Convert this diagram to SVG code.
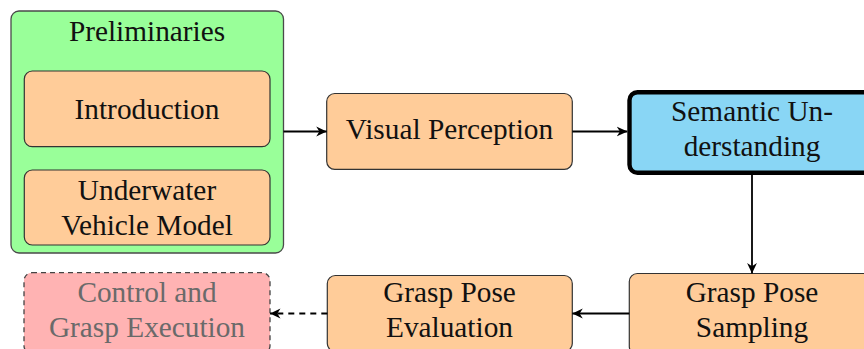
<svg xmlns="http://www.w3.org/2000/svg" width="864" height="349" viewBox="0 0 864 349">
  <style>
    .t { font-family: "Liberation Serif", "Times New Roman", serif; font-size: 29.3px; fill: #111; text-anchor: middle; }
    .gray { fill: #6a6a6a; }
    .peach { fill: #FFCC99; stroke: #333; stroke-width: 1.2; }
    .green { fill: #99FF99; stroke: #4a4a4a; stroke-width: 1.3; }
    .blue { fill: #89D6F5; stroke: #000; stroke-width: 4.4; }
    .pink { fill: #FFB3B3; stroke: #444; stroke-width: 1.3; stroke-dasharray: 5 4; }
    .edge { fill: none; stroke: #000; stroke-width: 1.8; }
    .dash { stroke-dasharray: 6 5; }
  </style>
  <defs>
    <marker id="arr" viewBox="0 0 10 10" refX="10" refY="5" markerWidth="10.5" markerHeight="10.5" markerUnits="userSpaceOnUse" orient="auto">
      <path d="M0,0.3 L10,5 L0,9.7 L3,5 Z" fill="#000"/>
    </marker>
  </defs>

  <g id="preliminaries">
    <rect class="green" x="11" y="11" width="272.5" height="242" rx="8"/>
    <text class="t" x="147" y="41">Preliminaries</text>
  </g>
  <g id="introduction">
    <rect class="peach" x="24.3" y="71" width="245.7" height="75.7" rx="8"/>
    <text class="t" x="147" y="119">Introduction</text>
  </g>
  <g id="underwater">
    <rect class="peach" x="24.3" y="170" width="245.7" height="75" rx="8"/>
    <text class="t" x="147" y="200">Underwater</text>
    <text class="t" x="147" y="235">Vehicle Model</text>
  </g>
  <g id="visual">
    <rect class="peach" x="326.7" y="93.5" width="245.6" height="75.8" rx="8"/>
    <text class="t" x="449.5" y="139">Visual Perception</text>
  </g>
  <g id="semantic">
    <rect class="blue" x="629.5" y="92.2" width="245" height="80.6" rx="8"/>
    <text class="t" x="752" y="121">Semantic Un-</text>
    <text class="t" x="752" y="156">derstanding</text>
  </g>
  <g id="sampling">
    <rect class="peach" x="629.3" y="273.5" width="245" height="81" rx="8"/>
    <text class="t" x="752" y="302">Grasp Pose</text>
    <text class="t" x="752" y="337">Sampling</text>
  </g>
  <g id="evaluation">
    <rect class="peach" x="327.3" y="275.5" width="245" height="76" rx="8"/>
    <text class="t" x="449.5" y="302">Grasp Pose</text>
    <text class="t" x="449.5" y="337">Evaluation</text>
  </g>
  <g id="control">
    <rect class="pink" x="24" y="272.7" width="246" height="81" rx="8"/>
    <text class="t gray" x="147" y="302">Control and</text>
    <text class="t gray" x="147" y="337">Grasp Execution</text>
  </g>

  <g id="connectors">
    <path class="edge" d="M283.5,131.5 L326.7,131.5" marker-end="url(#arr)"/>
    <path class="edge" d="M572.3,131.5 L627.3,131.5" marker-end="url(#arr)"/>
    <path class="edge" d="M752,175 L752,273.5" marker-end="url(#arr)"/>
    <path class="edge" d="M629.3,313.5 L572.3,313.5" marker-end="url(#arr)"/>
    <path class="edge dash" d="M327.3,313.5 L270,313.5" marker-end="url(#arr)"/>
  </g>
</svg>
